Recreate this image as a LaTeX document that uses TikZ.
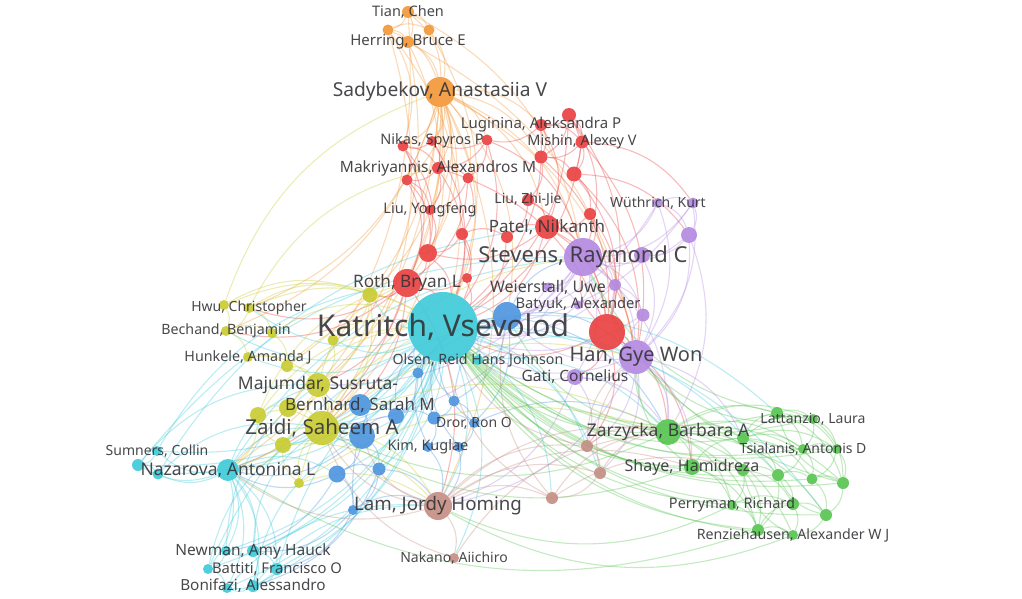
\documentclass[tikz,border=0pt]{standalone}
\usepackage{fontspec}
\setmainfont{Noto Sans}
\usetikzlibrary{backgrounds}

\definecolor{orng}{RGB}{242,152,58}
\definecolor{rd}{RGB}{234,66,66}
\definecolor{prp}{RGB}{180,138,224}
\definecolor{cyn}{RGB}{64,202,216}
\definecolor{blu}{RGB}{78,150,222}
\definecolor{ylw}{RGB}{200,204,50}
\definecolor{grn}{RGB}{88,196,82}
\definecolor{brn}{RGB}{196,142,132}
\definecolor{txt}{RGB}{52,52,56}

\tikzset{
  vnode/.style={circle, inner sep=0pt, minimum size=#1, fill opacity=0.92},
  lab/.style={font=\fontsize{#1}{#1}\selectfont, text=txt, inner sep=0pt, text opacity=0.9},
  link/.style={draw=#1, line width=1.1pt, draw opacity=0.36},
}

\begin{document}
\begin{tikzpicture}[x=1pt, y=-1pt]
\useasboundingbox (0,0) rectangle (1022,599);

% clusters
\foreach \n/\x/\y/\d in {tian/408/12/12, o1/388/30/11, o2/429/30/11, herr/408/42/12, sady/440/92/30}
  \node[vnode=\d, fill=orng] (\n) at (\x,\y) {};
\foreach \n/\x/\y/\d in {r1/569/115/14, lugi/541/125/12, r0/403/146/11, nikas/432/141/10, r2/487/140/11,
    mish/582/142/13, r3/541/157/13, makr/438/168/12, r4/407/180/11, r5/468/178/11, r6/574/174/15,
    lzj/528/200/12, r7/590/214/12, lyf/430/210/10, r8/462/234/12, r9/507/237/12, patel/547/227/24,
    r10/428/253/18, r11/467/278/10, roth/407/283/28, r12/607/332/36}
  \node[vnode=\d, fill=rd] (\n) at (\x,\y) {};
\foreach \n/\x/\y/\d in {wuth/658/203/10, p1/693/203/11, p2/689/235/16, p3/642/255/16, stev/583/257/38,
    weier/548/287/9, p4/615/285/12, batyuk/578/305/9, p5/643/315/13, han/636/357/34, gati/575/377/16}
  \node[vnode=\d, fill=prp] (\n) at (\x,\y) {};
\foreach \n/\x/\y/\d in {kat/443/327/70, naz/228/470/22, c1/138/465/12, c2/158/474/11, sumn/157/451/10,
    c3/226/551/10, newm/253/551/12, c4/208/569/10, batt/277/569/12, c5/227/588/10, boni/253/586/12,
    olsen/478/360/10}
  \node[vnode=\d, fill=cyn] (\n) at (\x,\y) {};
\foreach \n/\x/\y/\d in {b1/507/316/28, bern/360/405/22, b2/362/436/26, b3/396/416/16, b4/434/418/13,
    dror/474/423/10, kim/428/447/10, b5/459/447/10, b6/454/401/11, b7/418/373/11, b8/337/474/17,
    b9/379/469/13, b10/353/510/10}
  \node[vnode=\d, fill=blu] (\n) at (\x,\y) {};
\foreach \n/\x/\y/\d in {y1/224/305/10, hwu/249/308/10, bech/226/331/10, y2/272/333/10, hunk/248/357/10,
    y3/287/366/12, y4/370/295/15, y5/333/340/11, maj/318/385/24, y6/258/415/16, y7/288/408/18,
    zaidi/322/428/34, y8/283/445/16, y9/299/483/10}
  \node[vnode=\d, fill=ylw] (\n) at (\x,\y) {};
\foreach \n/\x/\y/\d in {zarz/668/432/26, g1/743/438/12, g2/777/413/12, latt/813/419/10, tsia/803/449/10,
    g3/837/449/10, shaye/692/467/16, g4/743/470/12, g5/778/475/12, g6/812/479/11, g7/843/483/12,
    perr/732/505/10, g8/793/504/12, g9/826/515/12, g10/758/530/12, renz/793/535/10}
  \node[vnode=\d, fill=grn] (\n) at (\x,\y) {};
\foreach \n/\x/\y/\d in {lam/438/506/28, nak/454/558/10, n1/587/446/12, n2/600/473/12, n3/552/498/12}
  \node[vnode=\d, fill=brn] (\n) at (\x,\y) {};

% links
\begin{pgfonlayer}{background}
\foreach \a/\b in {tian/o1, tian/o2, tian/herr, o1/o2, o1/herr, o2/herr, herr/sady, o1/sady, o2/sady,
    tian/sady, o1/kat, o2/kat, herr/roth, o1/r0, sady/kat, sady/roth, sady/makr, sady/nikas, sady/r0,
    sady/r4, sady/r10, sady/lyf, sady/r2, sady/r5, sady/patel, sady/stev, sady/maj, sady/zaidi, sady/y4,
    sady/lam, sady/naz, sady/han, sady/b1, sady/r3, sady/lugi, herr/han, tian/stev, sady/hwu, sady/bech,
    o1/zaidi, herr/maj, sady/y3, tian/naz}
  \draw[link=orng] (\a) to[bend left=25] (\b);
\foreach \a/\b in {r1/lugi, r1/mish, r1/r3, r1/r6, lugi/r2, lugi/mish, lugi/r3, r2/nikas, r2/r5,
    r2/makr, nikas/r0, nikas/makr, r0/makr, r0/r4, makr/r4, makr/r5, makr/lyf, r4/lyf, r4/r10, r5/r8,
    r5/lyf, mish/r6, mish/r3, r3/r6, r6/r7, r3/lzj, lzj/patel, lzj/r9, r7/patel, r7/stev, r9/patel,
    r8/r9, r8/r10, lyf/r10, r10/roth, r11/roth, r8/r11, patel/stev, patel/r12, r12/han, r12/stev,
    r12/kat, roth/kat, patel/kat, r10/kat, makr/kat, r1/kat, mish/kat, r6/r12, r7/r12, lugi/kat,
    r3/r12, r1/r12, roth/maj, roth/zaidi, roth/y4, patel/han, lzj/r12, r6/p2, mish/p1, r12/zarz,
    r12/gati, roth/lam, r0/roth, r4/roth, nikas/kat, r2/kat, r5/roth, makr/r12, r9/kat, r11/kat,
    r8/kat, patel/r10, r1/stev, r6/han, mish/han, lugi/patel, r2/stev, r0/r10, r12/shaye, r12/n1,
    roth/hwu, roth/bech, roth/naz}
  \draw[link=rd] (\a) to[bend left=25] (\b);
\foreach \a/\b in {wuth/p1, wuth/p2, wuth/stev, p1/p2, p1/stev, p2/p3, p2/stev, p3/stev, p3/han,
    p2/han, p1/han, stev/weier, stev/p4, stev/batyuk, stev/p5, stev/han, stev/gati, han/p5, han/p4,
    han/gati, p4/p5, weier/batyuk, stev/kat, han/kat, gati/kat, weier/kat, batyuk/kat, p4/kat,
    wuth/kat, stev/b1, han/b1, han/zarz, stev/zarz, han/shaye, gati/zarz, han/n1, han/n2, stev/zaidi,
    han/lam, p5/kat, gati/n1, stev/maj, p2/zarz, wuth/han, p1/kat, gati/lam, han/g1}
  \draw[link=prp] (\a) to[bend left=25] (\b);
\foreach \a/\b in {kat/naz, kat/c1, kat/c2, kat/sumn, kat/newm, kat/c3, kat/batt, kat/c4, kat/boni,
    kat/c5, kat/olsen, kat/b1, kat/bern, kat/b2, kat/b3, kat/maj, kat/zaidi, kat/y4, kat/y5, kat/hunk,
    kat/bech, kat/hwu, kat/lam, kat/nak, kat/n1, kat/n2, kat/n3, kat/y8, kat/b8, kat/b9, naz/c1,
    naz/c2, naz/sumn, naz/newm, naz/c3, naz/batt, naz/c4, naz/boni, naz/c5, sumn/c1, c1/c2, newm/c3,
    newm/batt, batt/boni, c4/c5, c3/c4, boni/c5, newm/boni, batt/c5, naz/zaidi, naz/maj, naz/b8,
    c1/maj, c2/zaidi, newm/zaidi, batt/b1, boni/b2, c3/maj, c4/zaidi, boni/lam, olsen/b1, olsen/han,
    c1/stev, sumn/roth, naz/stev, c2/patel, kat/g2, kat/g5, kat/g9, olsen/zarz, c4/b1, c5/lam}
  \draw[link=cyn] (\a) to[bend left=25] (\b);
\foreach \a/\b in {bern/b2, bern/b3, b2/b3, b3/b4, b4/dror, b4/kim, kim/b5, dror/b5, b6/b4, b6/dror,
    b7/b3, b7/b1, b6/b1, b2/b8, b2/b9, b8/b9, b9/b10, b8/b10, b10/lam, b9/lam, b2/zaidi, bern/maj,
    b3/kat, b4/kat, b6/kat, b7/kat, dror/kat, kim/kat, b5/kat, b10/kat, b1/stev, b1/han, b1/dror,
    b1/b6, b2/naz, b8/naz, b10/newm, b10/batt, kim/lam, b5/lam, dror/zarz, b1/zarz, b8/c3, b9/boni}
  \draw[link=blu] (\a) to[bend left=25] (\b);
\foreach \a/\b in {y1/hwu, y1/bech, hwu/bech, hwu/y2, bech/y2, bech/hunk, hunk/y3, y2/y3, hunk/maj,
    y3/maj, y4/maj, y5/maj, maj/y7, maj/zaidi, y6/y7, y6/zaidi, y7/zaidi, y8/zaidi, y8/y6, y9/zaidi,
    y9/y8, y4/y5, y4/zaidi, y1/kat, hwu/kat, y2/kat, y3/kat, y6/kat, y7/kat, y9/kat, zaidi/lam,
    maj/naz, y6/naz, y8/naz, zaidi/b2, zaidi/stev, maj/roth, y1/y4, hwu/y4, zaidi/han, zaidi/zarz,
    y8/lam, y9/lam, y1/sady, hwu/makr, y6/roth, y9/zarz}
  \draw[link=ylw] (\a) to[bend left=25] (\b);
\foreach \a/\b in {zarz/g1, zarz/g2, zarz/shaye, zarz/g4, zarz/g5, zarz/perr, zarz/g10, zarz/latt,
    zarz/tsia, zarz/g7, zarz/g9, zarz/renz, g1/g2, g1/latt, g1/tsia, g1/g3, g1/g5, g2/latt, g2/tsia,
    g2/g3, latt/g3, latt/tsia, latt/g7, tsia/g3, tsia/g5, tsia/g6, g3/g7, g3/g6, shaye/g4, shaye/perr,
    shaye/g10, g4/g5, g4/perr, g4/g10, g5/g6, g5/g8, g6/g7, g6/g9, g7/g9, g8/g9, g8/renz, perr/g10,
    perr/g8, g10/renz, g9/renz, g10/g8, g5/g10, g4/g8, g1/g6, g2/g7, shaye/g1, zarz/kat, shaye/kat,
    g1/kat, g2/kat, latt/kat, tsia/kat, g4/kat, g5/kat, perr/kat, g10/kat, renz/kat, g7/kat, g6/kat,
    g8/kat, zarz/han, shaye/han, g2/stev, latt/han, zarz/zaidi, shaye/zaidi, g10/naz, renz/lam,
    perr/lam, zarz/b1, g3/kat, g9/kat, g7/stev, g3/han, renz/g4, g9/g5, g7/g2}
  \draw[link=grn] (\a) to[bend left=25] (\b);
\foreach \a/\b in {lam/nak, lam/n1, lam/n2, lam/n3, n1/n2, n2/n3, n1/kat, n3/kat, lam/zaidi, lam/b2,
    nak/zaidi, n1/zarz, n2/zarz, n1/han, n2/han, n3/zarz, lam/naz, lam/maj, n3/b1, lam/zarz, lam/shaye,
    nak/zarz, n3/g4}
  \draw[link=brn] (\a) to[bend left=25] (\b);
\end{pgfonlayer}

% labels
\foreach \n/\s/\t in {tian/14.5/{Tian, Chen}, herr/15/{Herring, Bruce E},
    sady/19.2/{Sadybekov, Anastasiia V}, lugi/15/{Luginina, Aleksandra P}, nikas/14.5/{Nikas, Spyros P},
    mish/14.5/{Mishin, Alexey V}, makr/15.5/{Makriyannis, Alexandros M}, lzj/14/{Liu, Zhi-Jie},
    lyf/14.5/{Liu, Yongfeng}, wuth/14/{Wüthrich, Kurt}, patel/17/{Patel, Nilkanth},
    stev/22/{Stevens, Raymond C}, roth/17.2/{Roth, Bryan L}, weier/16/{Weierstall, Uwe},
    batyuk/14.7/{Batyuk, Alexander}, kat/30/{Katritch, Vsevolod}, han/20/{Han, Gye Won},
    gati/15.5/{Gati, Cornelius}, olsen/14.2/{Olsen, Reid Hans Johnson}, hwu/14/{Hwu, Christopher},
    bech/14.2/{Bechand, Benjamin}, hunk/14.3/{Hunkele, Amanda J}, maj/17.5/{Majumdar, Susruta-},
    bern/17/{Bernhard, Sarah M}, zaidi/20.5/{Zaidi, Saheem A}, dror/14/{Dror, Ron O},
    kim/14.5/{Kim, Kuglae}, sumn/14/{Sumners, Collin}, naz/17.5/{Nazarova, Antonina L},
    lam/18.7/{Lam, Jordy Homing}, nak/14/{Nakano, Aiichiro}, newm/15.5/{Newman, Amy Hauck},
    batt/14.8/{Battiti, Francisco O}, boni/15.3/{Bonifazi, Alessandro}, zarz/17.5/{Zarzycka, Barbara A},
    latt/14/{Lattanzio, Laura}, tsia/14/{Tsialanis, Antonis D}, shaye/16/{Shaye, Hamidreza},
    perr/14.5/{Perryman, Richard}, renz/14.2/{Renziehausen, Alexander W J}}
  \node[lab=\s] (\n-l) at (\n) {\t};
\end{tikzpicture}
\end{document}
